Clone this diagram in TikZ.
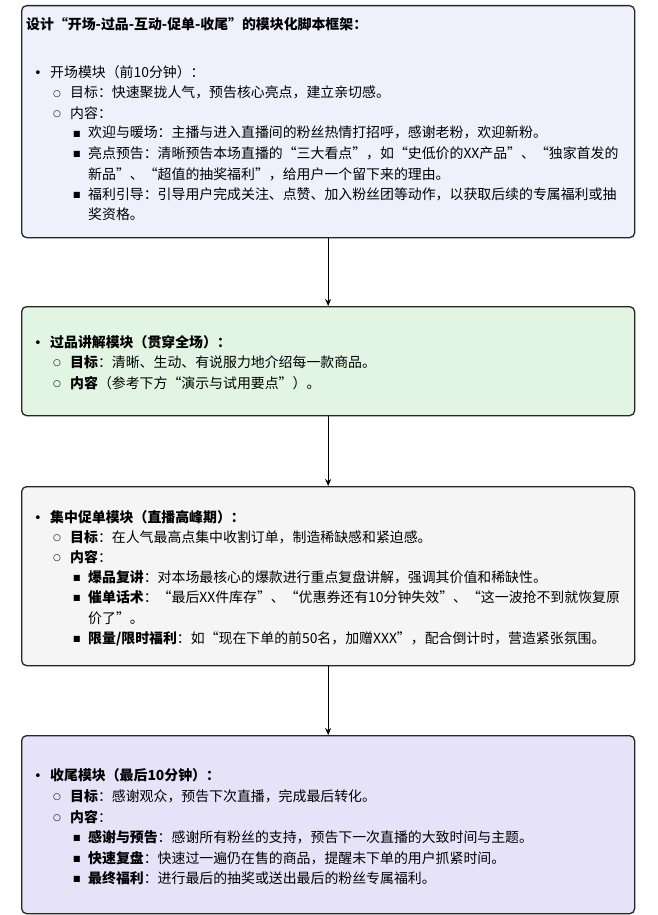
\documentclass[tikz,border=0pt]{standalone}
\usepackage{fontspec}
\setmainfont{Noto Sans CJK SC}
\newfontfamily\symf{DejaVu Sans}
\newcommand\oq{\makebox[1em][r]{“}}
\newcommand\cq{\makebox[1em][l]{”}}
\begin{document}
\begin{tikzpicture}[x=1pt,y=-1pt,
  box/.style={draw=black!85,line width=1.3pt,rounded corners=5pt},
  tx/.style={anchor=base west,inner sep=0pt,font=\fontsize{13.9}{15}\selectfont},
  arr/.style={-{Stealth[length=7pt,width=6pt]},line width=0.9pt}]
\useasboundingbox (0,0) rectangle (657,915);
\usetikzlibrary{arrows.meta}
\newcommand\Ta[3]{\node[tx] at (#1,#2) {#3};}
\newcommand\Bu[2]{\node[tx,font=\symf\fontsize{13}{14}\selectfont] at (34,#1) {•};\Ta{50}{#1}{#2}}
\newcommand\Ci[2]{\node[tx,font=\symf\fontsize{9}{10}\selectfont] at (53,#1-1.5) {○};\Ta{70}{#1}{#2}}
\newcommand\Sq[2]{\node[tx,font=\symf\fontsize{8}{9}\selectfont] at (73,#1-1.5) {■};\Ta{88}{#1}{#2}}
% boxes
\node[box,fill={rgb,255:red,238;green,241;blue,252},minimum width=613pt,minimum height=232pt,anchor=north west] (b1) at (21,5) {};
\node[box,fill={rgb,255:red,226;green,245;blue,227},minimum width=613pt,minimum height=109pt,anchor=north west] (b2) at (21,306) {};
\node[box,fill={rgb,255:red,245;green,245;blue,245},minimum width=613pt,minimum height=179pt,anchor=north west] (b3) at (21,486) {};
\node[box,fill={rgb,255:red,230;green,227;blue,249},minimum width=613pt,minimum height=178pt,anchor=north west] (b4) at (21,735) {};
\draw[arr] (b1.south) -- (b2.north);
\draw[arr] (b2.south) -- (b3.north);
\draw[arr] (b3.south) -- (b4.north);
% box 1
\Ta{26}{30}{\textbf{设计\oq 开场-过品-互动-促单-收尾\cq 的模块化脚本框架：}}
\Bu{78}{开场模块（前10分钟）：}
\Ci{98}{目标：快速聚拢人气，预告核心亮点，建立亲切感。}
\Ci{118}{内容：}
\Sq{138}{欢迎与暖场：主播与进入直播间的粉丝热情打招呼，感谢老粉，欢迎新粉。}
\Sq{158}{亮点预告：清晰预告本场直播的\oq 三大看点\cq ，如\oq 史低价的XX产品\cq 、\oq 独家首发的}
\Ta{88}{179}{新品\cq 、\oq 超值的抽奖福利\cq ，给用户一个留下来的理由。}
\Sq{199}{福利引导：引导用户完成关注、点赞、加入粉丝团等动作，以获取后续的专属福利或抽}
\Ta{88}{219}{奖资格。}
% box 2
\Bu{347}{\textbf{过品讲解模块（贯穿全场）：}}
\Ci{367}{\textbf{目标}：清晰、生动、有说服力地介绍每一款商品。}
\Ci{388}{\textbf{内容}（参考下方\oq 演示与试用要点\cq ）。}
% box 3
\Bu{522}{\textbf{集中促单模块（直播高峰期）：}}
\Ci{542}{\textbf{目标}：在人气最高点集中收割订单，制造稀缺感和紧迫感。}
\Ci{562}{\textbf{内容}：}
\Sq{582}{\textbf{爆品复讲}：对本场最核心的爆款进行重点复盘讲解，强调其价值和稀缺性。}
\Sq{602}{\textbf{催单话术}：\oq 最后XX件库存\cq 、\oq 优惠券还有10分钟失效\cq 、\oq 这一波抢不到就恢复原}
\Ta{88}{623}{价了\cq 。}
\Sq{643}{\textbf{限量/限时福利}：如\oq 现在下单的前50名，加赠XXX\cq ，配合倒计时，营造紧张氛围。}
% box 4
\Bu{780}{\textbf{收尾模块（最后10分钟）：}}
\Ci{801}{\textbf{目标}：感谢观众，预告下次直播，完成最后转化。}
\Ci{822}{\textbf{内容}：}
\Sq{842}{\textbf{感谢与预告}：感谢所有粉丝的支持，预告下一次直播的大致时间与主题。}
\Sq{863}{\textbf{快速复盘}：快速过一遍仍在售的商品，提醒未下单的用户抓紧时间。}
\Sq{883}{\textbf{最终福利}：进行最后的抽奖或送出最后的粉丝专属福利。}
\end{tikzpicture}
\end{document}
